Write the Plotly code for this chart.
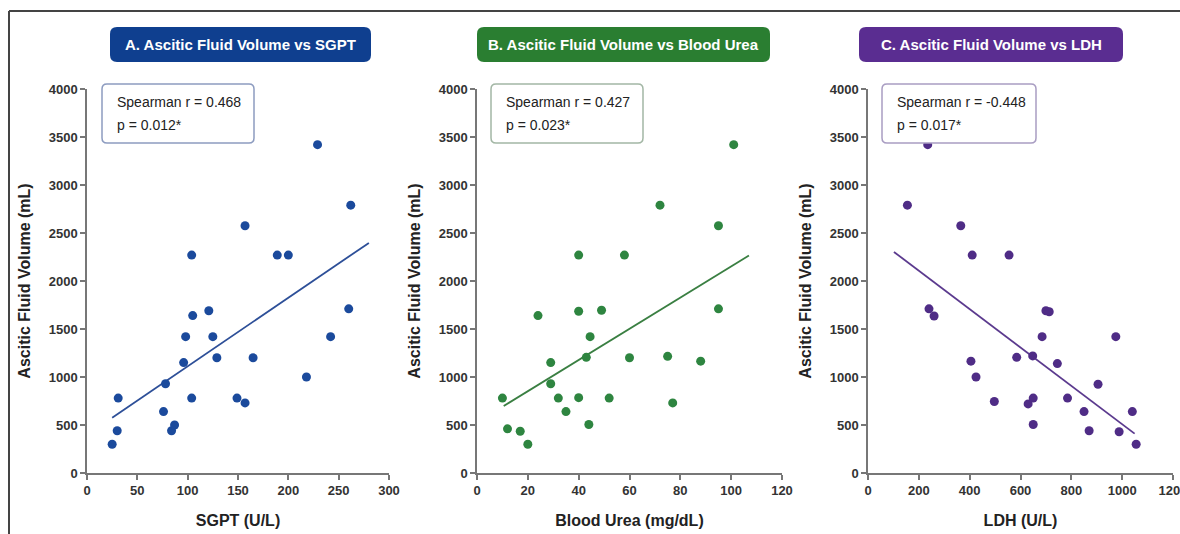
import plotly.graph_objects as go

W, H = 1180, 534

# ---------------- data ----------------
sgpt = [25, 30, 31, 76, 78, 84, 87, 98, 96, 105, 104, 121, 125, 129, 149, 157, 165,
        218, 242, 260, 229, 262, 157, 104, 189, 200]
vol_a = [300, 440, 780, 640, 930, 440, 500, 1420, 1150, 1640, 780, 1690, 1420, 1200, 780,
         730, 1200, 1000, 1420, 1710, 3420, 2790, 2575, 2270, 2270, 2270]

urea = [10, 12, 17, 20, 24, 29, 29, 32, 35, 40, 40, 43, 44.5, 44, 49, 52, 60, 75, 77, 88,
        95, 101, 72, 95, 40, 58]
vol_b = [780, 460, 435, 300, 1640, 1150, 930, 780, 640, 1685, 785, 1205, 1420, 505, 1695,
         780, 1200, 1215, 730, 1165, 1710, 3420, 2790, 2575, 2270, 2270]

ldh = [240, 260, 405, 425, 497, 585, 685, 700, 713, 745, 630, 650, 650, 785, 850, 870, 905,
       975, 988, 1040, 1055, 235, 155, 365, 410, 555, 648]
vol_c = [1710, 1635, 1165, 1000, 745, 1205, 1420, 1690, 1680, 1140, 720, 780, 505, 780, 640,
         440, 925, 1420, 430, 640, 300, 3420, 2790, 2575, 2270, 2270, 1220]

trend_a_x = [25, 280]
trend_a_y = [576, 2397]
trend_b_x = [10.5, 107]
trend_b_y = [698, 2265]
trend_c_x = [102, 1049]
trend_c_y = [2303, 410]

panel_titles = ["A. Ascitic Fluid Volume vs SGPT",
                "B. Ascitic Fluid Volume vs Blood Urea",
                "C. Ascitic Fluid Volume vs LDH"]
stat_r = ["Spearman r = 0.468", "Spearman r = 0.427", "Spearman r = -0.448"]
stat_p = ["p = 0.012*", "p = 0.023*", "p = 0.017*"]
x_titles = ["SGPT (U/L)", "Blood Urea (mg/dL)", "LDH (U/L)"]
y_title = "Ascitic Fluid Volume (mL)"
x_ranges = [[0, 300], [0, 120], [0, 1200]]
x_dtick = [50, 20, 200]
y_range = [0, 4000]

# ---------------- styling ----------------
marker_colors = ["#1b4a9c", "#2e8540", "#4f2c86"]
line_colors = ["#2d4f98", "#3a7f42", "#5b3a8e"]
title_colors = ["#0f3f8f", "#2a7e31", "#5a2d91"]
box_borders = ["#8d9cc0", "#a3b7a5", "#a99dc2"]


def px(x):
    return x / W


def py(y):
    return 1 - y / H


x_dom = [[87, 389], [477, 782], [868, 1173]]
y_dom = [89, 473]

fig = go.Figure()

xs = [sgpt, urea, ldh]
ys = [vol_a, vol_b, vol_c]
txs = [trend_a_x, trend_b_x, trend_c_x]
tys = [trend_a_y, trend_b_y, trend_c_y]

for i in range(3):
    sfx = "" if i == 0 else str(i + 1)
    fig.add_trace(go.Scatter(x=txs[i], y=tys[i], mode="lines",
                             line=dict(color=line_colors[i], width=1.8),
                             xaxis="x" + sfx, yaxis="y" + sfx, showlegend=False,
                             hoverinfo="skip"))
    fig.add_trace(go.Scatter(x=xs[i], y=ys[i], mode="markers",
                             marker=dict(color=marker_colors[i], size=9, line=dict(width=0)),
                             xaxis="x" + sfx, yaxis="y" + sfx, showlegend=False))

axis_common = dict(showgrid=False, zeroline=False, showline=True, linecolor="#777777",
                   linewidth=1.5, ticks="outside", ticklen=5, tickwidth=1.5,
                   tickcolor="#777777", automargin=False, ticklabeloverflow="allow",
                   tickfont=dict(family="Liberation Sans, Arial", size=13, color="#333333",
                                 weight="bold"))

layout = dict(width=W, height=H, margin=dict(l=0, r=0, t=0, b=0, autoexpand=False),
              paper_bgcolor="white", plot_bgcolor="white",
              font=dict(family="Liberation Sans, Arial", color="#222222"))

for i in range(3):
    sfx = "" if i == 0 else str(i + 1)
    layout["xaxis" + sfx] = dict(axis_common, domain=[px(x_dom[i][0]), px(x_dom[i][1])],
                                 range=x_ranges[i], dtick=x_dtick[i], tick0=0,
                                 anchor="y" + sfx,
                                 title=dict(text=x_titles[i], standoff=17,
                                            font=dict(size=16, weight="bold",
                                                      color="#222222")))
    layout["yaxis" + sfx] = dict(axis_common, domain=[py(y_dom[1]), py(y_dom[0])],
                                 range=y_range, dtick=500, tick0=0,
                                 anchor="x" + sfx,
                                 title=dict(text=y_title, standoff=14,
                                            font=dict(size=16, weight="bold",
                                                      color="#222222")))

fig.update_layout(**layout)


def rounded_rect(x0, y0, x1, y1, r):
    rx = r / W
    ry = r / H
    X0, X1 = px(x0), px(x1)
    Y0, Y1 = py(y0), py(y1)  # Y0 top (larger), Y1 bottom
    return (f"M {X0+rx},{Y0} L {X1-rx},{Y0} Q {X1},{Y0} {X1},{Y0-ry} "
            f"L {X1},{Y1+ry} Q {X1},{Y1} {X1-rx},{Y1} "
            f"L {X0+rx},{Y1} Q {X0},{Y1} {X0},{Y1+ry} "
            f"L {X0},{Y0-ry} Q {X0},{Y0} {X0+rx},{Y0} Z")


title_boxes = [(110, 27, 371, 62), (477, 27, 770, 62), (859, 27, 1123, 62)]
stat_boxes = [(102, 84, 254, 143), (491, 84, 643, 143), (882, 84, 1036, 143)]

shapes = []
annotations = []
for i in range(3):
    x0, y0, x1, y1 = title_boxes[i]
    shapes.append(dict(type="path", xref="paper", yref="paper",
                       path=rounded_rect(x0, y0, x1, y1, 7),
                       fillcolor=title_colors[i], line=dict(width=0)))
    annotations.append(dict(xref="paper", yref="paper", x=px((x0 + x1) / 2),
                            y=py((y0 + y1) / 2), text=panel_titles[i], showarrow=False,
                            xanchor="center", yanchor="middle",
                            font=dict(size=15, color="white", weight="bold")))
    x0, y0, x1, y1 = stat_boxes[i]
    shapes.append(dict(type="path", xref="paper", yref="paper",
                       path=rounded_rect(x0, y0, x1, y1, 5),
                       fillcolor="white", line=dict(width=1.5, color=box_borders[i])))
    annotations.append(dict(xref="paper", yref="paper", x=px(x0 + 13), y=py(102),
                            text=stat_r[i], showarrow=False, xanchor="left",
                            yanchor="middle", font=dict(size=14, color="#222222")))
    annotations.append(dict(xref="paper", yref="paper", x=px(x0 + 13), y=py(125),
                            text=stat_p[i], showarrow=False, xanchor="left",
                            yanchor="middle", font=dict(size=14, color="#222222")))

# outer frame (left and top edges visible)
shapes.append(dict(type="line", xref="paper", yref="paper", x0=px(9), x1=px(9),
                   y0=py(11), y1=py(540), line=dict(color="#444444", width=2)))
shapes.append(dict(type="line", xref="paper", yref="paper", x0=px(9), x1=px(1185),
                   y0=py(11), y1=py(11), line=dict(color="#444444", width=2)))

fig.update_layout(shapes=shapes, annotations=annotations)

fig.write_html("out.html", config={"displayModeBar": False},
               post_script="document.body.style.margin='0';"
                           "document.body.style.overflow='hidden';")
